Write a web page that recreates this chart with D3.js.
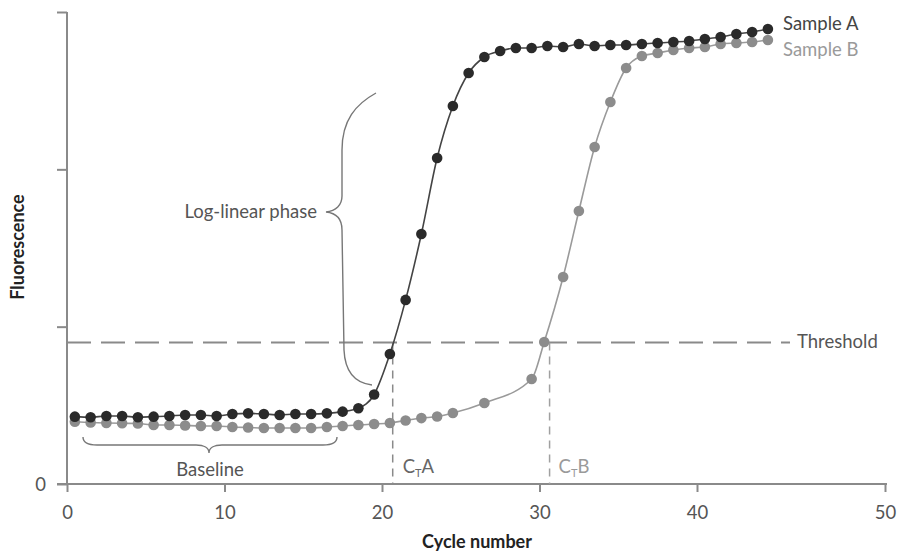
<!DOCTYPE html>
<html><head><meta charset="utf-8">
<script src="https://cdn.jsdelivr.net/npm/d3@7"></script>
<style>
html,body{margin:0;padding:0;background:#fff;}
svg{display:block;}
text{font-family:Lato,"Open Sans",sans-serif;}
</style></head>
<body>
<script>
// ---- data ----
const cyclesA = [0.5,1.5,2.5,3.5,4.5,5.5,6.5,7.5,8.5,9.5,10.5,11.5,12.5,13.5,14.5,15.5,16.5,17.5,18.5,19.5,20.5,21.5,22.5,23.5,24.5,25.5,26.5,27.5,28.5,29.5,30.5,31.5,32.5,33.5,34.5,35.5,36.5,37.5,38.5,39.5,40.5,41.5,42.5,43.5,44.5];
const sampleA = [0.428,0.424,0.432,0.432,0.424,0.428,0.432,0.439,0.439,0.432,0.445,0.449,0.445,0.439,0.445,0.445,0.449,0.460,0.481,0.569,0.826,1.170,1.589,2.072,2.403,2.612,2.714,2.752,2.771,2.771,2.784,2.778,2.797,2.784,2.790,2.790,2.797,2.803,2.809,2.816,2.828,2.841,2.860,2.873,2.892];
const cyclesB = [0.5,1.5,2.5,3.5,4.5,5.5,6.5,7.5,8.5,9.5,10.5,11.5,12.5,13.5,14.5,15.5,16.5,17.5,18.5,19.5,20.5,21.5,22.5,23.5,24.5,26.5,29.5,30.3,31.5,32.5,33.5,34.5,35.5,36.5,37.5,38.5,39.5,40.5,41.5,42.5,43.5,44.5];
const sampleB = [0.396,0.391,0.388,0.386,0.385,0.375,0.375,0.372,0.369,0.369,0.362,0.359,0.356,0.356,0.356,0.356,0.362,0.369,0.375,0.381,0.388,0.404,0.419,0.429,0.451,0.515,0.667,0.903,1.316,1.735,2.142,2.428,2.644,2.720,2.739,2.759,2.771,2.778,2.797,2.803,2.809,2.822];
const xTicks = [0,10,20,30,40,50];
const yTicks = [0,1,2,3];
const yTickLabels = ["0","","",""];
const threshold = 0.90;
const ctA = 20.68, ctB = 30.64;
const seriesNames = ["Sample A","Sample B"];

// ---- layout ----
const W = 899, H = 554;
const svg = d3.select("body").append("svg").attr("width",W).attr("height",H);
const x = d3.scaleLinear().domain([0,40]).range([67,697]);
// the printed axis is stretched between 40 and 50
const xAxisScale = d3.scaleLinear().domain([0,40,50]).range([67,697,885]);
const y = d3.scaleLinear().domain([0,3]).range([484,12]);

const axisColor = "#8a8a8a";
const darkC = "#2a2a2a", grayC = "#8c8c8c";
const fs = "18.5px";

// y axis
const gy = svg.append("g").attr("transform",`translate(${x(0)},0)`)
  .call(d3.axisLeft(y).tickValues(yTicks).tickSize(10).tickFormat((d,i)=>yTickLabels[i]));
gy.select(".domain").attr("stroke",axisColor).attr("stroke-width",2).attr("d",`M0,${y(3)}V${y(0)}`);
gy.selectAll(".tick line").attr("stroke",axisColor).attr("stroke-width",2);
gy.selectAll(".tick text").attr("fill","#555").style("font-size",fs).attr("x",-21).attr("dy","0.35em");

// x axis
const gx = svg.append("g").attr("transform",`translate(0,${y(0)})`)
  .call(d3.axisBottom(xAxisScale).tickValues(xTicks).tickSize(8).tickFormat(d3.format("d")));
gx.select(".domain").attr("stroke",axisColor).attr("stroke-width",2).attr("d",`M${x(0)-10},0H${xAxisScale(50)+2}`);
gx.selectAll(".tick line").attr("stroke",axisColor).attr("stroke-width",2);
gx.selectAll(".tick text").attr("fill","#555").style("font-size",fs).attr("y",22);

// axis titles
svg.append("text").attr("x",477).attr("y",548).attr("text-anchor","middle")
  .style("font-size","18px").style("font-weight","bold").attr("fill","#222").text("Cycle number");
svg.append("text").attr("transform","translate(24,247) rotate(-90)").attr("text-anchor","middle")
  .style("font-size","18px").style("font-weight","bold").attr("fill","#222").text("Fluorescence");

// threshold
svg.append("line").attr("x1",x(0)).attr("x2",790).attr("y1",y(threshold)).attr("y2",y(threshold))
  .attr("stroke","#8a8a8a").attr("stroke-width",2).attr("stroke-dasharray","24,10");
svg.append("text").attr("x",797).attr("y",y(threshold)+6).attr("fill","#555").style("font-size",fs).text("Threshold");

// Ct lines
[[ctA,"#8a8a8a"],[ctB,"#a0a0a0"]].forEach(([c,col])=>{
  svg.append("line").attr("x1",x(c)).attr("x2",x(c)).attr("y1",y(threshold)).attr("y2",y(0))
    .attr("stroke",col).attr("stroke-width",1.5).attr("stroke-dasharray","8,6");
});
function ctLabel(xp,letter,col){
  const t = svg.append("text").attr("x",xp).attr("y",473).attr("fill",col).style("font-size",fs);
  t.append("tspan").text("C");
  t.append("tspan").attr("dy",4).style("font-size","11px").text("T");
  t.append("tspan").attr("dy",-4).text(letter);
}
ctLabel(x(ctA)+10,"A","#666");
ctLabel(x(ctB)+9,"B","#9a9a9a");

// lines + dots
const line = d3.line().curve(d3.curveMonotoneX);
const ptsB = cyclesB.map((c,i)=>[x(c),y(sampleB[i])]);
const ptsA = cyclesA.map((c,i)=>[x(c),y(sampleA[i])]);
svg.append("path").attr("d",line(ptsB)).attr("fill","none").attr("stroke","#9a9a9a").attr("stroke-width",1.6);
svg.append("g").selectAll("circle").data(ptsB).join("circle")
  .attr("cx",d=>d[0]).attr("cy",d=>d[1]).attr("r",5.3).attr("fill",grayC);
svg.append("path").attr("d",line(ptsA)).attr("fill","none").attr("stroke","#444").attr("stroke-width",1.6);
svg.append("g").selectAll("circle").data(ptsA).join("circle")
  .attr("cx",d=>d[0]).attr("cy",d=>d[1]).attr("r",5.3).attr("fill",darkC);

// legend labels
svg.append("text").attr("x",783).attr("y",30).attr("fill","#444").style("font-size",fs).text(seriesNames[0]);
svg.append("text").attr("x",783).attr("y",56).attr("fill","#9a9a9a").style("font-size",fs).text(seriesNames[1]);

// baseline brace
svg.append("path").attr("fill","none").attr("stroke","#777").attr("stroke-width",1.4)
  .attr("d","M83,437 C83,443 88,445 97,445 L196,445 C204,445 209,448 209,453 C209,448 214,445 222,445 L323,445 C332,445 337,443 337,437");
svg.append("text").attr("x",210).attr("y",476).attr("text-anchor","middle").attr("fill","#555").style("font-size",fs).text("Baseline");

// log-linear brace
svg.append("path").attr("fill","none").attr("stroke","#777").attr("stroke-width",1.4)
  .attr("d","M376,93 C356,104 342,120 342,150 L342,196 C342,205 336,211 326,212 C336,213 342,219 342,230 L344,350 C345,372 355,383 372,385");
svg.append("text").attr("x",317).attr("y",218).attr("text-anchor","end").attr("fill","#555").style("font-size",fs).text("Log-linear phase");
</script>
</body></html>
